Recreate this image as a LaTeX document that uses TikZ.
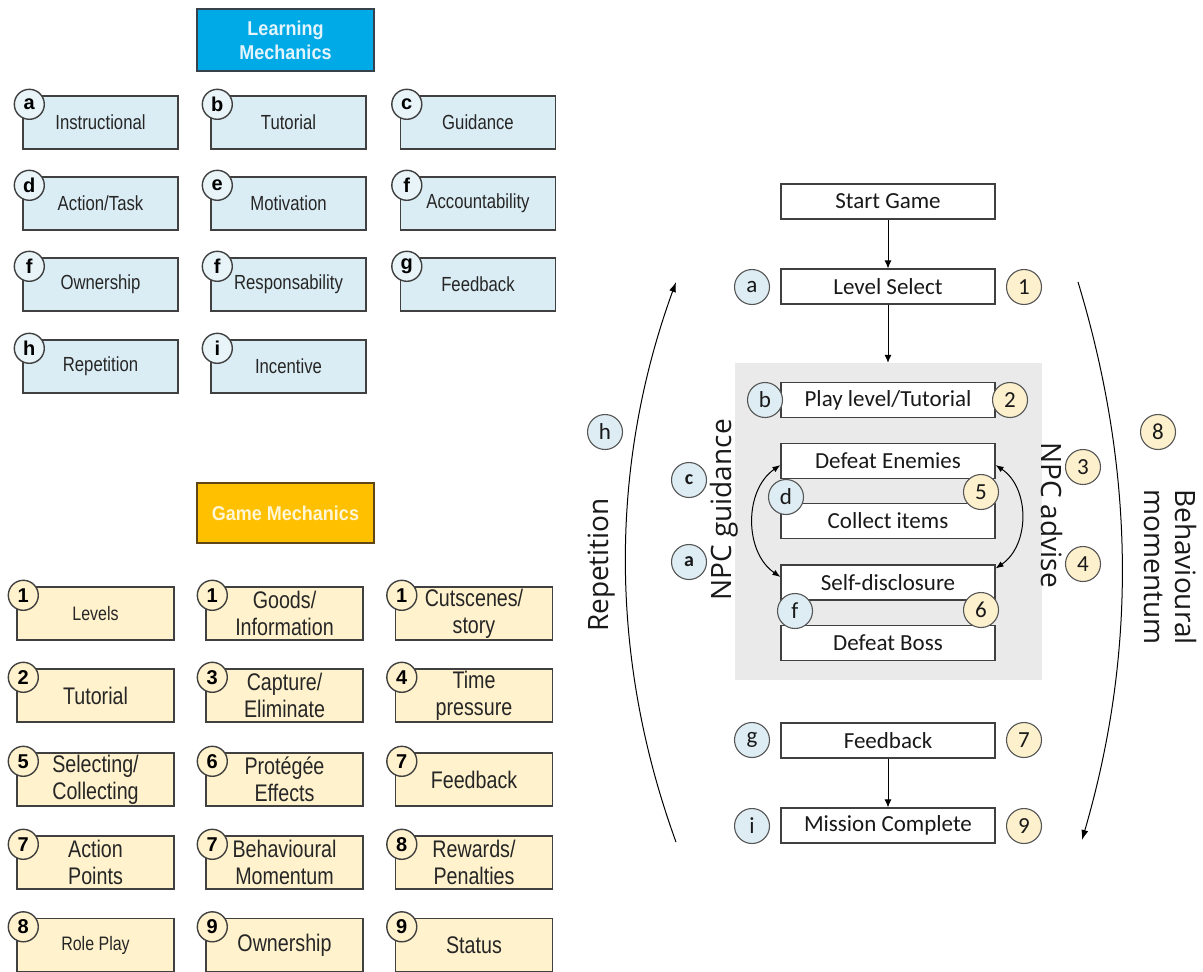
\documentclass[tikz,border=0pt]{standalone}
\usepackage{fontspec}
\usetikzlibrary{arrows.meta}
\setmainfont{Liberation Sans}
\newfontfamily\narrowfont[FakeStretch=0.82]{Liberation Sans}
\newfontfamily\headfont[FakeStretch=0.9]{Liberation Sans}
\newfontfamily\tagfont{Liberation Sans}
\newfontfamily\flowfont{Carlito}
\newfontfamily\sidefont{Open Sans}

\definecolor{lmfill}{RGB}{219,237,244}
\definecolor{gmfill}{RGB}{255,242,204}
\definecolor{lmhead}{RGB}{0,170,230}
\definecolor{gmhead}{RGB}{255,192,0}
\definecolor{lmheadtext}{RGB}{228,244,252}
\definecolor{gmheadtext}{RGB}{255,246,214}
\definecolor{lmheadedge}{RGB}{55,65,75}
\definecolor{gmheadedge}{RGB}{95,70,25}
\definecolor{edge}{RGB}{64,64,64}
\definecolor{tagedge}{RGB}{85,85,85}
\definecolor{panelgrey}{RGB}{234,234,234}
\definecolor{tagblue}{RGB}{222,236,244}
\definecolor{tagcream}{RGB}{253,240,205}

\begin{document}
\begin{tikzpicture}[x=1pt,y=-1pt,
  lmbox/.style={draw=edge, line width=1.4pt, fill=lmfill, minimum width=155pt,
    minimum height=53pt, inner sep=0pt, align=center, text=black!85,
    font=\narrowfont\fontsize{20.4pt}{24pt}\selectfont},
  gmbox/.style={draw=edge, line width=1.4pt, fill=gmfill, minimum width=157pt,
    minimum height=53pt, inner sep=0pt, align=center, text=black!85,
    font=\narrowfont\fontsize{24pt}{27pt}\selectfont},
  gmsmall/.style={font=\narrowfont\fontsize{19.5pt}{23pt}\selectfont},
  lmtag/.style={circle, draw=edge, line width=1.4pt, fill=lmfill!60!white,
    minimum size=30pt, inner sep=0pt, text=black,
    font=\tagfont\bfseries\fontsize{20pt}{20pt}\selectfont},
  gmtag/.style={lmtag, fill=gmfill},
  headbox/.style={line width=1.3pt, minimum width=177pt, inner sep=0pt,
    align=center, font=\headfont\bfseries\fontsize{20pt}{24pt}\selectfont},
  flowbox/.style={draw=edge, line width=1.1pt, fill=white, minimum width=214pt,
    minimum height=35pt, inner sep=0pt, text=black!90,
    font=\flowfont\fontsize{23pt}{27pt}\selectfont},
  letterdot/.style={circle, draw=tagedge, line width=1.1pt, fill=tagblue,
    minimum size=35pt, inner sep=0pt, text=black!90,
    font=\flowfont\fontsize{23pt}{23pt}\selectfont},
  numberdot/.style={letterdot, fill=tagcream},
  boldletter/.style={letterdot, font=\flowfont\bfseries\fontsize{20pt}{20pt}\selectfont},
  sidelabel/.style={inner sep=0pt, align=center, text=black!90,
    font=\sidefont\fontsize{28pt}{31pt}\selectfont},
  arr/.style={-{Latex[length=8pt,width=7pt]}, line width=1pt},
  looparr/.style={{Latex[length=8pt,width=6pt]}-{Latex[length=8pt,width=6pt]}, line width=1pt},
  bigarr/.style={-{Latex[length=10pt,width=7pt]}, line width=1pt}
]
\useasboundingbox (0,0) rectangle (1203,972);

% ---------- Learning mechanics ----------
\node[headbox, fill=lmhead, draw=lmheadedge, text=lmheadtext, minimum height=62pt]
  (lmhead) at (285.5,40) {Learning\\Mechanics};

\node[lmbox] (lm1) at (100.5,122.5) {Instructional};
\node[lmbox] (lm2) at (288.5,122.5) {Tutorial};
\node[lmbox] (lm3) at (478,122.5)   {Guidance};
\node[lmbox] (lm4) at (100.5,203.5) {Action/Task};
\node[lmbox] (lm5) at (288.5,203.5) {Motivation};
\node[lmbox] (lm6) at (478,203.5)   {Accountability};
\node[lmbox] (lm7) at (100.5,284.5) {Ownership};
\node[lmbox] (lm8) at (288.5,284.5) {Responsability};
\node[lmbox] (lm9) at (478,284.5)   {Feedback};
\node[lmbox] (lm10) at (100.5,366.5) {Repetition};
\node[lmbox] (lm11) at (288.5,366.5) {Incentive};

\foreach \b/\t in {lm1/a, lm2/b, lm3/c, lm4/d, lm5/e, lm6/f, lm7/f, lm8/f, lm9/g, lm10/h, lm11/i}
  \node[lmtag] (tag-\b) at ([shift={(7,9)}]\b.north west) {\t};

% ---------- Game mechanics ----------
\node[headbox, fill=gmhead, draw=gmheadedge, text=gmheadtext, minimum height=60pt]
  (gmhead) at (285.5,513) {Game Mechanics};

\node[gmbox, gmsmall] (gm1) at (95.5,613.5) {Levels};
\node[gmbox] (gm2) at (284.5,613.5) {Goods/\\Information};
\node[gmbox] (gm3) at (474,613.5)   {Cutscenes/\\story};
\node[gmbox] (gm4) at (95.5,695.5)  {Tutorial};
\node[gmbox] (gm5) at (284.5,695.5) {Capture/\\Eliminate};
\node[gmbox] (gm6) at (474,695.5)   {Time\\pressure};
\node[gmbox] (gm7) at (95.5,779.5)  {Selecting/\\Collecting};
\node[gmbox] (gm8) at (284.5,779.5) {Protégée\\Effects};
\node[gmbox] (gm9) at (474,779.5)   {Feedback};
\node[gmbox] (gm10) at (95.5,862.5)  {Action\\Points};
\node[gmbox] (gm11) at (284.5,862.5) {Behavioural\\Momentum};
\node[gmbox] (gm12) at (474,862.5)   {Rewards/\\Penalties};
\node[gmbox, gmsmall] (gm13) at (95.5,945) {Role Play};
\node[gmbox] (gm14) at (284.5,945) {Ownership};
\node[gmbox] (gm15) at (474,945)   {Status};

\foreach \b/\t in {gm1/1, gm2/1, gm3/1, gm4/2, gm5/3, gm6/4, gm7/5, gm8/6, gm9/7,
                   gm10/7, gm11/7, gm12/8, gm13/8, gm14/9, gm15/9}
  \node[gmtag] (tag-\b) at ([shift={(7,9)}]\b.north west) {\t};

% ---------- Game flow ----------
\node[fill=panelgrey, minimum width=307pt, minimum height=317pt, inner sep=0pt]
  (panel) at (888.5,521.5) {};

\node[flowbox] (start) at (888,201.5) {Start Game};
\node[flowbox] (lvl)   at (888,286.5) {Level Select};
\node[flowbox] (play)  at (888,400)   {Play level/Tutorial};
\node[flowbox] (de)    at (888,461)   {Defeat Enemies};
\node[flowbox] (ci)    at (888,521)   {Collect items};
\node[flowbox] (sd)    at (888,582.5) {Self-disclosure};
\node[flowbox] (db)    at (888,643)   {Defeat Boss};
\node[flowbox] (fb)    at (888,740.5) {Feedback};
\node[flowbox] (mc)    at (888,825.5) {Mission Complete};

\draw[arr] (start) -- (lvl);
\draw[arr] (lvl) -- (lvl.south |- panel.north);
\draw[arr] (fb) -- (mc);

% loops between the inner steps
\draw[looparr] ([yshift=-4pt]de.west) .. controls (744,490) and (744,552) .. ([yshift=5.5pt]sd.west);
\draw[looparr] ([yshift=-4pt]de.east) .. controls (1030,488) and (1030,545) .. ([yshift=14pt]sd.east);

% markers
\node[letterdot] (fa) at (752,287) {a};
\node[numberdot] (f1) at (1024,287) {1};
\node[letterdot] (fbb) at (765,400) {b};
\node[numberdot] (f2) at (1010,400) {2};
\node[boldletter] (fc) at (689,480) {c};
\node[boldletter] (fa2) at (689,562) {a};
\node[letterdot] (fd) at (786,497) {d};
\node[numberdot] (f5) at (981,492) {5};
\node[letterdot] (ff) at (795,611) {f};
\node[numberdot] (f6) at (981,610) {6};
\node[numberdot] (f3) at (1083,467) {3};
\node[numberdot] (f4) at (1083,564) {4};
\node[letterdot] (fh) at (605,432) {h};
\node[numberdot] (f8) at (1158,432) {8};
\node[letterdot] (fg) at (752,740) {g};
\node[numberdot] (f7) at (1024,740) {7};
\node[letterdot] (fi) at (752,826) {i};
\node[numberdot] (f9) at (1024,826) {9};

% side labels
\node[sidelabel, rotate=90]  (npcg) at (724,510) {NPC guidance};
\node[sidelabel, rotate=-90] (npca) at (1052,515) {NPC advise};
\node[sidelabel, rotate=90]  (rep)  at (602,565) {Repetition};
\node[sidelabel, rotate=-90] (beh)  at (1170,567) {Behavioural\\momentum};

% outer cycle
\coordinate (repB) at (676,842);
\coordinate (repT) at (676,282);
\coordinate (behT) at (1078,282);
\coordinate (behB) at (1082,840);
\draw[bigarr] (repB) .. controls (609,658) and (609,466) .. (repT);
\draw[bigarr] (behT) .. controls (1135,470) and (1137,652) .. (behB);
\end{tikzpicture}
\end{document}
